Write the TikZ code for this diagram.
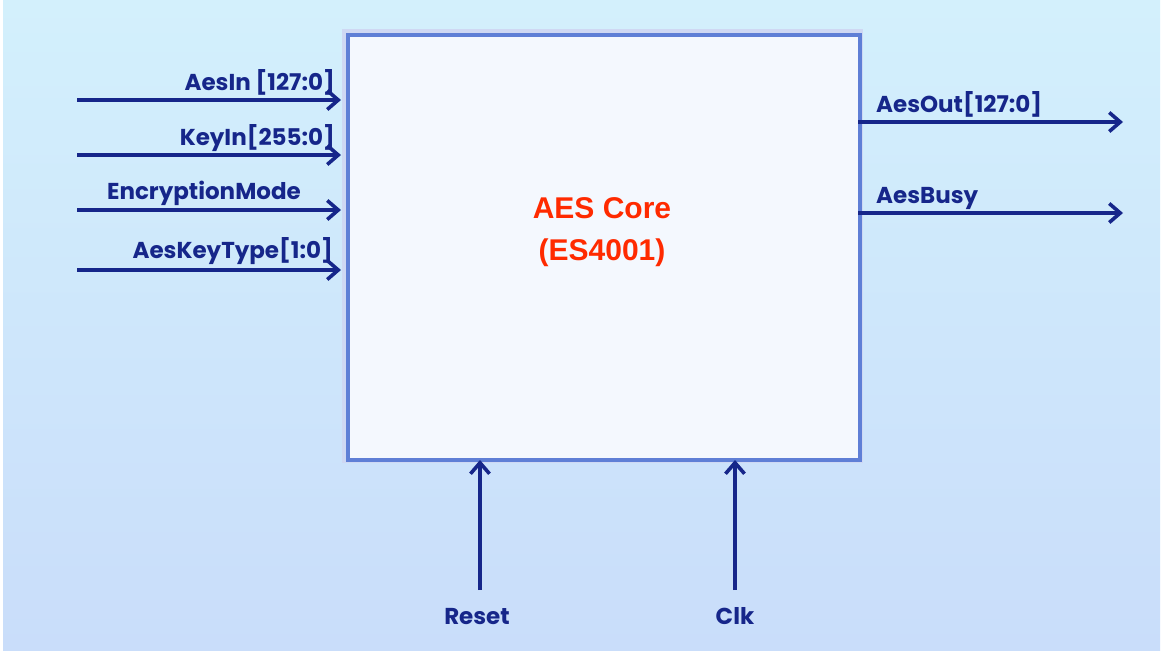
\documentclass[tikz,border=0pt]{standalone}
\usepackage{fontspec}
\setmainfont{Poppins}
\newfontfamily\corefont{Liberation Sans}
\usetikzlibrary{arrows.meta}
\definecolor{bgtop}{HTML}{D3F0FC}
\definecolor{bgbot}{HTML}{C9DDFA}
\definecolor{navy}{HTML}{16268A}
\definecolor{boxedge}{HTML}{5F7FD6}
\definecolor{boxfill}{HTML}{F4F8FE}
\definecolor{corered}{HTML}{FF2A00}
\tikzset{
  sig/.style={draw=navy, line width=3.8pt, -{Straight Barb[length=11pt,width=19pt,line width=3.6pt]}},
  lbl/.style={text=navy, font=\fontsize{23}{25}\selectfont\bfseries, inner sep=0pt},
  pt/.style={inner sep=0pt, minimum size=0pt},
}
\begin{document}
\begin{tikzpicture}[x=1pt,y=-1pt]
\useasboundingbox (0,0) rectangle (1163,651);
\fill[white] (0,0) rectangle (1163,651);
\shade[top color=bgtop, bottom color=bgbot] (3,0) rectangle (1160,651);
% glow
\draw[boxedge!30, line width=9pt] (346,33) rectangle (858,458);
\node[pt, draw=boxedge, line width=4pt, fill=boxfill, minimum width=512pt, minimum height=425pt, anchor=north west] (core) at (346,33) {};
\node[pt, text=corered, font=\corefont\fontsize{30}{42}\selectfont\bfseries, align=center] (title) at (602,232) {AES Core\\(ES4001)};
% left inputs
\coordinate (i1) at (77,100);
\coordinate (i2) at (77,155);
\coordinate (i3) at (77,210);
\coordinate (i4) at (77,270);
\coordinate (e1) at (341,100);
\coordinate (e2) at (341,155);
\coordinate (e3) at (341,210);
\coordinate (e4) at (341,270);
\draw[sig] (i1) -- (e1);
\draw[sig] (i2) -- (e2);
\draw[sig] (i3) -- (e3);
\draw[sig] (i4) -- (e4);
\node[lbl, anchor=base east] (l1) at (335,90) {AesIn [127:0]};
\node[lbl, anchor=base east] (l2) at (335,145) {KeyIn[255:0]};
\node[lbl, anchor=base east] (l3) at (301,199) {EncryptionMode};
\node[lbl, anchor=base east] (l4) at (333,258) {AesKeyType[1:0]};
% right outputs
\coordinate (o1) at (858,122);
\coordinate (o2) at (858,213);
\coordinate (f1) at (1123,122);
\coordinate (f2) at (1123,213);
\draw[sig] (o1) -- (f1);
\draw[sig] (o2) -- (f2);
\node[lbl, anchor=base west] (r1) at (876,112) {AesOut[127:0]};
\node[lbl, anchor=base west] (r2) at (876,203) {AesBusy};
% bottom
\coordinate (b1) at (480,590);
\coordinate (b2) at (735,590);
\coordinate (c1) at (480,460);
\coordinate (c2) at (735,460);
\draw[sig] (b1) -- (c1);
\draw[sig] (b2) -- (c2);
\node[lbl, anchor=base] (reset) at (477,624) {Reset};
\node[lbl, anchor=base] (clk) at (735,624) {Clk};
\end{tikzpicture}
\end{document}
